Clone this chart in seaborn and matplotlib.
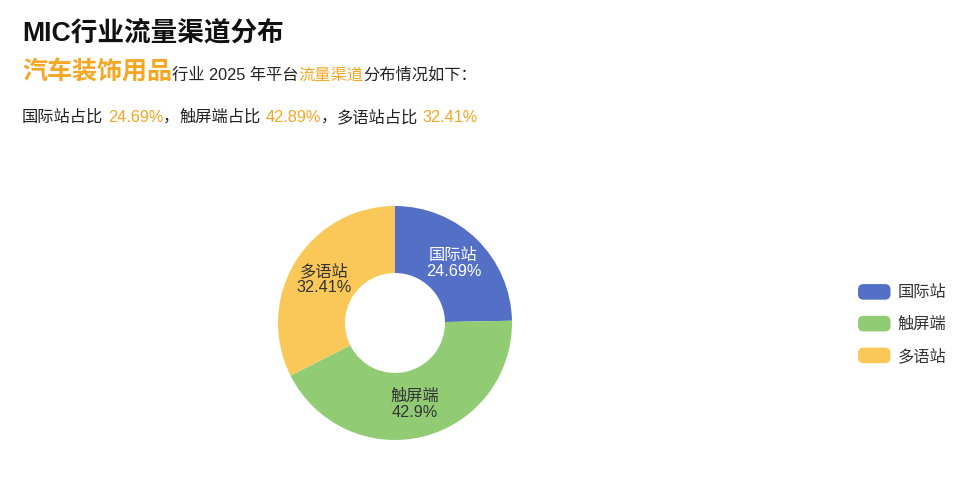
import matplotlib
matplotlib.use("Agg")
import seaborn as sns
from matplotlib import pyplot as plt
from matplotlib.patches import Patch, FancyBboxPatch
from matplotlib.legend_handler import HandlerPatch
import numpy as np

channels = ["国际站", "触屏端", "多语站"]
shares = [24.69, 42.9, 32.41]
share_text = ["24.69%", "42.89%", "32.41%"]
pie_labels = ["24.69%", "42.9%", "32.41%"]
colors = ["#5470c6", "#91cc75", "#fac858"]
label_colors = ["#ffffff", "#333333", "#333333"]
industry = "汽车装饰用品"
year = "2025"

ORANGE = "#f5a623"
W, H = 965, 483

sns.set_theme(style="white")
# latin glyphs from an Arial-like face, CJK from Noto
plt.rcParams["font.family"] = ["Liberation Sans", "Noto Sans CJK SC", "DejaVu Sans"]

fig = plt.figure(figsize=(W / 100, H / 100), dpi=100)
fig.patch.set_facecolor("white")
renderer = fig.canvas.get_renderer()


def fx(x):
    return x / W


def fy(y):
    return 1 - y / H


def text_width(s, size, weight="normal"):
    t = fig.text(0, 0, s, fontsize=size, fontweight=weight)
    w = t.get_window_extent(renderer).width
    t.remove()
    return w


def draw_runs(runs, x0, y_base):
    x = x0
    for s, color, size, weight, gap in runs:
        x += gap
        t = fig.text(fx(x), fy(y_base), s, color=color, fontsize=size,
                     fontweight=weight, va="baseline", ha="left")
        x += t.get_window_extent(renderer).width


# header
fig.text(fx(22), fy(40), "MIC行业流量渠道分布", fontsize=19.2, fontweight="bold",
         color="#111111", va="baseline", ha="left")

small = 11.7
sp = text_width("a a", small) - text_width("aa", small)
draw_runs([
    (industry, ORANGE, 18, "bold", 0),
    ("行业 " + year + " 年平台", "#222222", small, "normal", 0),
    ("流量渠道", ORANGE, small, "normal", 0),
    ("分布情况如下：", "#222222", small, "normal", 0),
], 22, 80)

runs = []
for i, (ch, st) in enumerate(zip(channels, share_text)):
    runs.append((ch + "占比", "#222222", small, "normal", 0))
    runs.append((st, ORANGE, small, "normal", sp))
    if i < len(channels) - 1:
        runs.append(("，", "#222222", small, "normal", 0))
draw_runs(runs, 22, 122)

# donut
R = 117
cx, cy = 395, 323
ax = fig.add_axes([fx(cx - R), fy(cy + R), 2 * R / W, 2 * R / H])
inner = 50 / R
wedges, _ = ax.pie(shares, colors=colors, startangle=90, counterclock=False,
                   radius=1, wedgeprops=dict(width=1 - inner, edgecolor="none"))
ax.set_xlim(-1, 1)
ax.set_ylim(-1, 1)
ax.set_aspect("equal")
ax.axis("off")

r_lab = (1 + inner) / 2
for w, ch, lab, lc in zip(wedges, channels, pie_labels, label_colors):
    ang = np.deg2rad((w.theta1 + w.theta2) / 2)
    ax.text(r_lab * np.cos(ang), r_lab * np.sin(ang), ch + "\n" + lab,
            ha="center", va="center", fontsize=small, color=lc, linespacing=1.1)


class RoundHandler(HandlerPatch):
    def create_artists(self, legend, orig_handle, xdescent, ydescent,
                       width, height, fontsize, trans):
        p = FancyBboxPatch((-xdescent, -ydescent), width, height,
                           boxstyle="round,pad=0,rounding_size=4",
                           fc=orig_handle.get_facecolor(), ec="none",
                           transform=trans)
        return [p]


handles = [Patch(facecolor=c, label=ch) for c, ch in zip(colors, channels)]
fig.legend(handles=handles, loc="center left", bbox_to_anchor=(fx(858), fy(324)),
           frameon=False, fontsize=small, handlelength=2.0, handleheight=1.1,
           handletextpad=0.45, labelspacing=0.95, borderpad=0, borderaxespad=0,
           labelcolor="#333333",
           handler_map={Patch: RoundHandler()})

fig.savefig("out.png", dpi=100)
